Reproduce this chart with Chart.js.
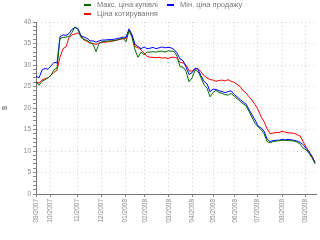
<!DOCTYPE html>
<html>
<head>
<meta charset="utf-8">
<script src="https://cdn.jsdelivr.net/npm/chart.js@4"></script>
<style>html,body{margin:0;padding:0;background:#fff}</style>
</head>
<body>
<canvas id="rateChart" width="320" height="240"></canvas>
<script>
// ціни, $ — один запис на кожну точку графіка
const seriesNames = ['Макс. ціна купівлі', 'Мін. ціна продажу', 'Ціна котирування'];
const monthLabels = ['09/2007', '10/2007', '11/2007', '12/2007', '01/2008', '02/2008', '03/2008',
  '04/2008', '05/2008', '06/2008', '07/2008', '08/2008', '09/2008'];
const monthStarts = [0, 4.7, 13.7, 21.7, 29.7, 36.3, 44.3, 52, 59, 66.3, 73.7, 82, 89.7];

const buyMax = [26.1, 25.3, 26.2, 26.6, 27.0, 27.6, 28.9, 29.3, 36.2, 36.4,
  36.5, 36.6, 37.6, 38.9, 38.2, 36.4, 36.0, 35.7, 35.2, 34.8,
  33.1, 35.0, 35.4, 35.5, 35.6, 35.6, 35.7, 35.8, 36.0, 36.2,
  35.4, 38.0, 36.4, 33.5, 31.8, 33.0, 32.4, 33.0, 33.0, 33.1,
  33.0, 33.2, 33.2, 33.0, 33.3, 33.2, 33.2, 32.0, 29.6, 29.5,
  28.5, 26.1, 27.0, 28.8, 28.5, 27.0, 25.4, 24.6, 22.6, 23.6,
  24.1, 23.6, 23.4, 23.1, 23.0, 23.4, 22.8, 22.2, 21.6, 21.0,
  20.5, 19.2, 17.8, 16.4, 15.6, 15.0, 14.0, 12.2, 11.9, 12.2,
  12.3, 12.4, 12.5, 12.5, 12.4, 12.4, 12.3, 12.1, 11.6, 10.7,
  10.3, 9.4, 8.4, 7.0];
const sellMin = [27.4, 27.0, 28.8, 29.2, 29.0, 29.8, 30.6, 30.5, 36.6, 37.0,
  36.9, 37.3, 38.3, 38.7, 38.5, 36.8, 36.5, 36.2, 35.6, 35.6,
  35.3, 35.6, 35.8, 35.8, 35.9, 35.9, 36.0, 36.1, 36.3, 36.5,
  36.4, 38.4, 37.0, 34.8, 34.3, 33.8, 34.2, 33.8, 33.9, 34.1,
  33.8, 34.0, 34.2, 34.0, 34.1, 34.0, 33.6, 32.8, 31.4, 31.0,
  29.5, 27.8, 28.2, 29.3, 29.0, 27.5, 26.2, 25.6, 23.8, 24.4,
  24.3, 24.0, 23.8, 23.6, 23.8, 24.0, 23.2, 22.6, 22.0, 21.4,
  20.9, 19.6, 18.4, 17.2, 15.8, 15.4, 14.6, 12.8, 12.2, 12.4,
  12.5, 12.5, 12.7, 12.6, 12.7, 12.6, 12.5, 12.3, 12.0, 11.5,
  10.6, 9.8, 8.6, 7.2];
const quote = [26.1, 25.8, 26.5, 26.8, 27.0, 27.6, 28.3, 28.8, 31.8, 33.8,
  34.2, 36.4, 37.0, 37.2, 37.5, 36.8, 35.8, 35.5, 35.1, 35.0,
  34.8, 35.1, 35.3, 35.3, 35.4, 35.5, 35.6, 35.8, 36.0, 36.1,
  36.2, 38.2, 36.8, 34.3, 34.0, 33.5, 32.8, 32.0, 31.8, 31.8,
  31.7, 31.8, 31.6, 31.7, 31.5, 31.8, 31.8, 31.6, 30.6, 30.5,
  30.0, 28.6, 28.6, 29.0, 29.2, 28.4, 27.5, 27.0, 26.6, 26.5,
  26.2, 26.4, 26.5, 26.3, 26.6, 26.2, 26.0, 25.5, 25.0, 24.0,
  23.5, 22.6, 21.8, 20.8, 19.6, 18.0, 16.8, 15.2, 14.0, 14.2,
  14.3, 14.3, 14.6, 14.4, 14.2, 14.2, 14.1, 13.8, 13.5, 12.2,
  10.9, 9.8, 8.8, 7.3];

const font = 'Liberation Sans';
const toPoints = arr => arr.map((v, i) => ({ x: i, y: v }));

// легенда у два рядки, вирівняна по лівому краю
const legendRows = {
  id: 'legendRows',
  afterDraw(chart) {
    const ctx = chart.ctx;
    const spots = [[84, 5], [167, 5], [84, 14]];
    ctx.save();
    ctx.font = '7.5px "' + font + '"';
    ctx.textBaseline = 'middle';
    chart.data.datasets.forEach((ds, k) => {
      const [x, y] = spots[k];
      ctx.strokeStyle = ds.borderColor;
      ctx.lineWidth = 2;
      ctx.beginPath();
      ctx.moveTo(x, y);
      ctx.lineTo(x + 7, y);
      ctx.stroke();
      ctx.fillStyle = '#777';
      ctx.fillText(ds.label, x + 13, y);
    });
    ctx.restore();
  }
};

new Chart(document.getElementById('rateChart'), {
  type: 'line',
  data: {
    datasets: [
      { label: seriesNames[0], data: toPoints(buyMax), borderColor: '#006a00' },
      { label: seriesNames[1], data: toPoints(sellMin), borderColor: '#0000ff' },
      { label: seriesNames[2], data: toPoints(quote), borderColor: '#ff0000' }
    ]
  },
  options: {
    responsive: false,
    animation: false,
    layout: { padding: { top: 22, right: 4, left: 0, bottom: 0 } },
    elements: {
      line: { borderWidth: 1, tension: 0 },
      point: { radius: 0 }
    },
    plugins: {
      legend: { display: false },
      tooltip: { enabled: false }
    },
    scales: {
      x: {
        type: 'linear',
        min: 0,
        max: 93.3,
        afterBuildTicks: s => { s.ticks = monthStarts.map(v => ({ value: v })); },
        afterFit: s => { s.height = 46; },
        ticks: {
          autoSkip: false,
          minRotation: 90,
          maxRotation: 90,
          padding: 2,
          color: '#888',
          font: { family: font, size: 6.5 },
          callback: (v, i) => monthLabels[i]
        },
        grid: { color: '#d0d0d0', tickColor: '#888', tickLength: 3 },
        border: { color: '#777', dash: [1, 3] }
      },
      y: {
        min: 0,
        max: 40,
        afterFit: s => { s.width = 36; },
        title: {
          display: true,
          text: '$',
          color: '#666',
          font: { family: font, size: 8 },
          padding: { top: 0, bottom: 0 }
        },
        ticks: {
          stepSize: 1,
          autoSkip: false,
          padding: 2,
          color: '#888',
          font: { family: font, size: 6.5 },
          callback: v => (v % 5 === 0 ? v : '')
        },
        grid: {
          color: c => (c.tick && c.tick.value % 5 === 0 ? '#d0d0d0' : 'rgba(0,0,0,0)'),
          tickColor: '#888',
          tickLength: 3
        },
        border: { color: '#777', dash: [1, 3] }
      }
    }
  },
  plugins: [legendRows]
});
</script>
</body>
</html>
